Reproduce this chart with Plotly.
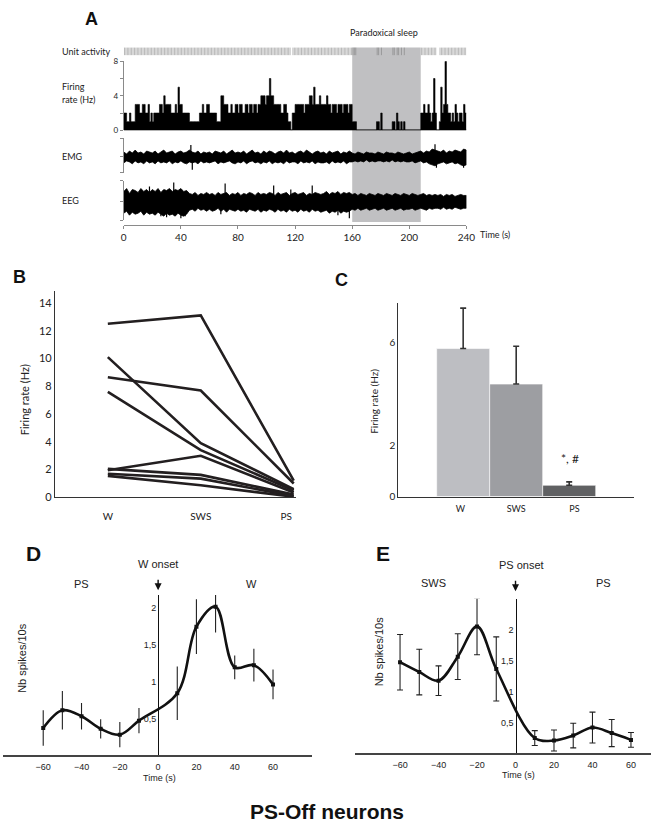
import plotly.graph_objects as go

# ---------------- DATA ----------------
# Panel A: firing rate per 1-s bin (Hz), t = 0..239 s
RATE = [2,2,1,1,2,1,1,1,3,3, 3,2,2,3,3,2,2,3,1,2, 1,2,2,2,2,3,3,2,4,3, 3,3,3,2,2,2,3,2,5,3,
        3,2,2,2,2,2,1,1,1,1, 1,1,1,2,2,3,2,2,3,3, 2,2,2,2,2,1,1,1,4,4, 3,3,3,2,2,3,2,2,3,3,
        2,3,3,2,2,3,3,2,3,3, 2,3,3,2,3,3,4,4,4,3, 4,4,6,4,4,3,3,3,3,3, 2,2,3,3,2,1,1,0,2,2,
        3,3,3,3,3,3,2,3,3,3, 4,4,3,5,3,3,3,4,3,3, 3,3,4,3,3,2,3,3,3,2, 3,3,3,2,3,3,3,2,3,3,
        1,1,1,0,0,0,0,0,0,0, 0,0,0,0,0,0,0,1,1,0, 2,0,0,0,0,0,0,0,1,1, 0,2,1,0,1,0,1,0,0,0,
        0,0,0,0,0,0,0,0,2,2, 3,2,2,3,2,1,2,6,2,0, 0,1,5,2,3,8,3,2,2,1, 2,1,3,2,1,2,2,1,3,2]
PS_START, PS_END = 160, 208
TIME_TICKS = [0, 40, 80, 120, 160, 200, 240]

# EMG / EEG envelopes (upper / lower excursion), sampled every 2 s
SIG_T = list(range(0, 241, 2))
EMG_UP = [5,3,6,4,7,4,5,3,6,5, 4,6,3,5,7,4,5,6,3,5, 6,4,5,7,5,4,6,3,5,4, 5,3,6,5,4,6,3,5,7,4,
          5,4,6,3,5,7,4,5,3,6, 4,6,5,3,5,6,4,7,4,5, 3,5,6,4,7,5,3,5,6,4, 5,3,6,4,5,6,3,5,4,6,
          4,3,5,4,3,5,4,4,3,5, 4,3,5,4,4,3,5,4,3,4, 5,3,4,5,6,4,6,5,8,7, 6,5,7,4,6,5,7,6,5,8, 7]
EMG_DN = [6,4,5,7,4,6,5,7,4,6, 5,7,4,6,5,6,4,7,5,6, 4,6,7,5,6,5,7,4,6,5, 6,5,4,7,5,6,5,4,6,7,
          5,6,4,7,5,4,6,5,7,5, 6,4,7,5,6,5,7,4,6,5, 5,7,4,6,5,6,4,7,5,6, 6,5,7,4,6,5,6,4,7,5,
          5,4,5,4,5,3,5,4,5,4, 4,5,4,5,3,5,4,5,4,5, 5,4,6,5,4,6,5,7,8,9, 7,6,5,7,6,5,7,6,8,9, 8]
EEG_UP = [10,13,8,12,11,9,13,10,12,9, 12,10,13,9,12,11,13,10,12,11, 13,10,11,8,7,9,6,8,7,9,
          7,8,6,9,7,8,9,6,8,7, 9,6,8,7,9,8,6,9,7,8, 7,9,8,6,9,7,8,9,6,8, 9,7,8,9,6,8,7,9,8,7,
          8,10,7,9,8,10,7,9,8,9, 7,8,6,8,7,6,8,7,6,8, 7,6,8,7,6,8,7,6,8,7, 6,8,7,6,7,8,6,7,6,7,
          6,7,5,7,6,7,5,6,7,6, 6]
EEG_DN = [12,10,14,11,13,12,10,14,11,13, 12,14,11,13,15,12,14,13,15,12, 14,15,13,9,8,10,7,9,8,10,
          8,10,9,7,10,8,11,8,9,10, 8,10,9,11,8,9,10,8,11,9, 10,8,9,11,8,10,9,11,8,10, 9,11,8,10,9,11,8,10,9,11,
          10,9,12,10,11,9,12,10,11,10, 8,9,7,9,8,7,9,8,7,9, 8,7,9,8,7,9,8,7,9,8, 8,7,9,8,7,8,9,7,8,7,
          7,8,6,8,7,8,6,7,8,7, 7]
# isolated transients (time s, excursion)
EMG_SPK_T = [47, 48, 218, 219, 238]
EMG_SPK_V = [12, -13, 13, -11, -11]
EEG_SPK_T = [18, 26, 30, 35, 40, 43, 68, 71, 105, 117, 132, 150, 158]
EEG_SPK_V = [15, -15, -16, 19, -17, -15, -13, 18, 16, 12, 16, -14, -17]

# Panel B: individual neurons, firing rate (Hz)
STATES = ["W", "SWS", "PS"]
B_W   = [12.5, 10.1, 8.65, 7.6, 1.95, 2.05, 1.7, 1.55]
B_SWS = [13.1, 3.9, 7.7, 3.4, 3.0, 1.62, 1.35, 0.87]
B_PS  = [1.2, 0.6, 1.0, 0.5, 0.35, 0.2, 0.1, 0.05]

# Panel C: mean firing rate + SEM
C_MEAN = [5.75, 4.37, 0.44]
C_SEM = [1.57, 1.47, 0.13]
C_COLORS = ["#bdbec2", "#9d9ea2", "#606163"]

# Panels D and E: Nb spikes/10 s around onsets
T_REL = [-60, -50, -40, -30, -20, -10, 10, 20, 30, 40, 50, 60]
D_MEAN = [0.37, 0.61, 0.53, 0.36, 0.28, 0.47, 0.84, 1.74, 2.01, 1.19, 1.22, 0.96]
D_ERR = [0.24, 0.26, 0.18, 0.13, 0.17, 0.17, 0.36, 0.37, 0.35, 0.16, 0.22, 0.20]
E_MEAN = [1.48, 1.32, 1.18, 1.57, 2.06, 1.37, 0.25, 0.21, 0.29, 0.42, 0.33, 0.22]
E_ERR = [0.45, 0.37, 0.24, 0.37, 0.46, 0.52, 0.12, 0.17, 0.20, 0.25, 0.22, 0.12]

# ---------------- FIGURE ----------------
W, H = 660, 830
def fx(x): return x / W
def fy(y): return 1 - y / H

CAL = "Lato"
HEL = "Liberation Sans"
INK = "#231f20"

fig = go.Figure()

# --- Panel A ---
rx = [i + 0.5 for i, r in enumerate(RATE) if r > 0]
fig.add_trace(go.Scatter(x=rx, y=[0.5] * len(rx), xaxis="x", yaxis="y", mode="markers",
                         marker=dict(symbol="line-ns", size=6, line=dict(width=1, color="rgba(115,115,115,0.5)")),
                         hoverinfo="skip"))
hx = list(range(len(RATE) + 1))
hy = RATE + [RATE[-1]]
fig.add_trace(go.Scatter(x=hx, y=hy, xaxis="x", yaxis="y2", mode="lines", line_shape="hv",
                         line=dict(color="black", width=0.6), fill="tozeroy", fillcolor="black"))
fig.add_trace(go.Scatter(x=[0, len(RATE)], y=[0, 0], xaxis="x", yaxis="y2", mode="lines",
                         line=dict(color="black", width=1.6)))
for up, dn, st, sv, ya in [(EMG_UP, EMG_DN, EMG_SPK_T, EMG_SPK_V, "y3"),
                           (EEG_UP, EEG_DN, EEG_SPK_T, EEG_SPK_V, "y4")]:
    px_ = SIG_T + SIG_T[::-1]
    py_ = up + [-d for d in dn][::-1]
    fig.add_trace(go.Scatter(x=px_, y=py_, xaxis="x", yaxis=ya, mode="lines", fill="toself",
                             fillcolor="black", line=dict(color="black", width=0.8)))
    sx, sy = [], []
    for t, v in zip(st, sv):
        sx += [t, t, None]
        sy += [0, v, None]
    fig.add_trace(go.Scatter(x=sx, y=sy, xaxis="x", yaxis=ya, mode="lines",
                             line=dict(color="black", width=1.2)))

# --- Panel B ---
for w, s, p in zip(B_W, B_SWS, B_PS):
    fig.add_trace(go.Scatter(x=[0, 1, 2], y=[w, s, p], xaxis="x2", yaxis="y5", mode="lines",
                             line=dict(color=INK, width=2.6)))

# --- Panel C ---
fig.add_trace(go.Bar(x=[0, 1, 2], y=C_MEAN, xaxis="x3", yaxis="y6", width=1,
                     marker=dict(color=C_COLORS, line=dict(width=0.6, color="white")),
                     error_y=dict(type="data", symmetric=False, array=C_SEM, arrayminus=[0, 0, 0],
                                  color="#333", thickness=1.6, width=3)))

# --- Panel D & E ---
for ys, es, xa, ya, cap in [(D_MEAN, D_ERR, "x4", "y7", 0), (E_MEAN, E_ERR, "x5", "y8", 3)]:
    fig.add_trace(go.Scatter(x=T_REL, y=ys, xaxis=xa, yaxis=ya, mode="lines+markers",
                             line=dict(color="#111", width=2.6, shape="spline", smoothing=1.0),
                             marker=dict(symbol="square", size=4, color="#111"),
                             error_y=dict(type="data", array=es, color="#222", thickness=1.1, width=cap)))

# ---------------- AXES ----------------
common = dict(showgrid=False, zeroline=False)
lay = dict(
    width=W, height=H, autosize=False, margin=dict(l=0, r=0, t=0, b=0, pad=0),
    paper_bgcolor="white", plot_bgcolor="rgba(0,0,0,0)", showlegend=False,
    xaxis=dict(domain=[fx(123), fx(472)], range=[0, 240], anchor="free", position=fy(223),
               showline=True, linecolor="#8a8a8a", linewidth=1, ticks="outside", ticklen=3,
               tickcolor="#8a8a8a", tickvals=TIME_TICKS, tickfont=dict(family=CAL, size=10, color="#222"), **common),
    yaxis=dict(domain=[fy(51), fy(43)], range=[0, 1], anchor="x", visible=False, **common),
    yaxis2=dict(domain=[fy(127), fy(57)], range=[0, 8], anchor="x", showline=True, linecolor="#8a8a8a",
                ticks="outside", ticklen=3, tickcolor="#8a8a8a", tickvals=[0, 2, 4, 6, 8],
                ticktext=["0", "", "4", "", "8"], tickfont=dict(family=CAL, size=8, color="#222"), **common),
    yaxis3=dict(domain=[fy(170), fy(135)], range=[-16, 19], anchor="x", showline=True, linecolor="#8a8a8a",
                ticks="outside", ticklen=3, tickcolor="#8a8a8a", tickvals=[-16, 0, 19], showticklabels=False, **common),
    yaxis4=dict(domain=[fy(218), fy(178)], range=[-19, 21], anchor="x", showline=True, linecolor="#8a8a8a",
                ticks="outside", ticklen=3, tickcolor="#8a8a8a", tickvals=[-19, 0, 21], showticklabels=False, **common),
    xaxis2=dict(domain=[fx(53), fx(298)], range=[-0.568, 2.02], anchor="y5", showline=True, linecolor="#333",
                linewidth=1.3, tickvals=[0, 1, 1.92], ticktext=STATES, ticks="outside", ticklen=9,
                tickcolor="rgba(0,0,0,0)", tickfont=dict(family=CAL, size=10, color="#222"), **common),
    yaxis5=dict(domain=[fy(499), fy(290)], range=[0, 14.85], anchor="x2", showline=True, linecolor="#333",
                linewidth=1.3, tickvals=list(range(0, 15, 2)), tickfont=dict(family=CAL, size=11, color="#222"), **common),
    xaxis3=dict(domain=[fx(402.7), fx(643)], range=[-1.222, 3.228], anchor="y6", showline=True, linecolor="#333",
                linewidth=1.3, tickvals=[-0.05, 1, 2.1], ticktext=STATES, ticks="outside", ticklen=3,
                tickcolor="rgba(0,0,0,0)", tickfont=dict(family=CAL, size=9, color="#222"), **common),
    yaxis6=dict(domain=[fy(498.2), fy(301.7)], range=[0, 7.53], anchor="x3", showline=True, linecolor="#333",
                linewidth=1.3, tickvals=[0, 2, 6], tickfont=dict(family=CAL, size=10, color="#222"), **common),
    xaxis4=dict(domain=[0, fx(315)], range=[-81.0, 80.5], anchor="y7", showline=True, linecolor="#444",
                linewidth=1.6, tickvals=[-60, -40, -20, 0, 20, 40, 60], ticks="outside", ticklen=2,
                tickcolor="rgba(0,0,0,0)", tickfont=dict(family=HEL, size=9, color="#222"), **common),
    yaxis7=dict(domain=[fy(760.5), fy(598)], range=[0, 2.167], anchor="free", position=fx(158), showline=True,
                linecolor="#111", linewidth=1.3, tickvals=[0.5, 1, 1.5, 2], ticktext=["0,5", "1", "1,5", "2"],
                tickfont=dict(family=HEL, size=9, color="#222"), **common),
    xaxis5=dict(domain=[fx(359), 1.0], range=[-83.16, 70.41], anchor="y8", showline=True, linecolor="#444",
                linewidth=1.6, tickvals=[-60, -40, -20, 0, 20, 40, 60], ticks="outside", ticklen=2,
                tickcolor="rgba(0,0,0,0)", tickfont=dict(family=HEL, size=9, color="#222"), **common),
    yaxis8=dict(domain=[fy(758.5), fy(601.7)], range=[0, 2.509], anchor="free", position=fx(522), showline=True,
                linecolor="#111", linewidth=1.3, tickvals=[0.5, 1, 1.5, 2], ticktext=["0,5", "1", "1,5", "2"],
                tickfont=dict(family=HEL, size=9, color="#222"), **common),
)
fig.update_layout(**lay)

fig.add_shape(type="rect", xref="x", yref="paper", x0=PS_START, x1=PS_END, y0=fy(220), y1=fy(43),
              fillcolor="#c0c0c2", line=dict(width=0), layer="below")

def ann(text, x, y, size, family, xanchor="center", angle=0, color="#222"):
    return dict(text=text, x=fx(x), y=fy(y), xref="paper", yref="paper", showarrow=False,
                xanchor=xanchor, yanchor="middle", textangle=angle,
                font=dict(size=size, family=family, color=color))

anns = [
    ann("<b>A</b>", 90, 14, 18, HEL, color="#111"),
    ann("Paradoxical sleep", 388, 28, 9, CAL),
    ann("Unit activity", 58, 47, 9, CAL, xanchor="left"),
    ann("Firing", 58, 83, 9, CAL, xanchor="left"),
    ann("rate (Hz)", 58, 96, 9, CAL, xanchor="left"),
    ann("EMG", 58, 154, 9, CAL, xanchor="left"),
    ann("EEG", 58, 198, 9, CAL, xanchor="left"),
    ann("Time (s)", 484, 233, 9, CAL, xanchor="left"),
    ann("<b>B</b>", 17, 276, 18, HEL, color="#111"),
    ann("Firing rate (Hz)", 22, 400, 11, CAL, angle=-90),
    ann("<b>C</b>", 345, 279, 18, HEL, color="#111"),
    ann("Firing rate (Hz)", 378, 402, 10, CAL, angle=-90),
    ann("*, #", 577, 460, 12, CAL),
    ann("<b>D</b>", 31, 556, 21, HEL, color="#111"),
    ann("W onset", 158, 567, 11, HEL),
    ann("PS", 80, 587, 11, HEL),
    ann("W", 253, 587, 11, HEL),
    ann("Nb spikes/10s", 20, 662, 11, HEL, angle=-90),
    ann("Time (s)", 159, 783, 9, HEL),
    ann("<b>E</b>", 387, 556, 21, HEL, color="#111"),
    ann("PS onset", 528, 568, 11, HEL),
    ann("SWS", 438, 586, 11, HEL),
    ann("PS", 612, 586, 11, HEL),
    ann("Nb spikes/10s", 383, 655, 11, HEL, angle=-90),
    ann("Time (s)", 525, 780, 9, HEL),
    ann("<b>PS-Off neurons</b>", 330, 817, 21, HEL, color="#111"),
]
for xa, ytip in [(158, 593), (522, 594)]:
    anns.append(dict(text="", x=fx(xa), y=fy(ytip), xref="paper", yref="paper", showarrow=True,
                     ax=0, ay=-12, axref="pixel", ayref="pixel", arrowhead=2, arrowsize=1,
                     arrowwidth=1.4, arrowcolor="#111"))
fig.update_layout(annotations=anns)

fig.write_html("out.html", config={"displayModeBar": False},
               post_script="document.body.style.margin='0';document.body.style.overflow='hidden';")
